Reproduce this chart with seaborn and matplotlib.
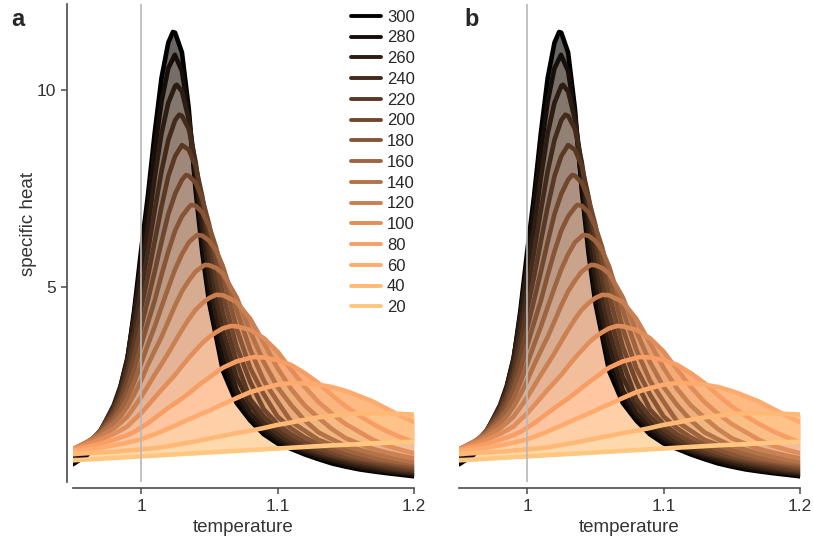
import numpy as np
import pandas as pd
import matplotlib
matplotlib.use("Agg")
import matplotlib.pyplot as plt
from matplotlib.lines import Line2D
import seaborn as sns

# ---------------- data ----------------
sizes = [300, 280, 260, 240, 220, 200, 180, 160, 140, 120, 100, 80, 60, 40, 20]

temperature = [0.95, 0.96, 0.97, 0.98, 0.985, 0.99, 0.995, 1.0, 1.005, 1.01,
               1.015, 1.02, 1.025, 1.03, 1.035, 1.04, 1.045, 1.05, 1.055, 1.06,
               1.07, 1.08, 1.09, 1.10, 1.11, 1.12, 1.13, 1.14, 1.15, 1.16,
               1.17, 1.18, 1.19, 1.20]

peak_T = [1.0234, 1.0248, 1.0262, 1.028, 1.030, 1.033, 1.0367, 1.0413, 1.047,
          1.055, 1.066, 1.0825, 1.11, 1.165, None]
peak_C = [11.47, 10.89, 10.13, 9.37, 8.60, 7.84, 7.08, 6.32, 5.56,
          4.80, 4.01, 3.22, 2.56, 1.80, None]

heat_300 = [.50, .72, 1.10, 1.90, 2.45, 3.15, 4.40, 5.90, 7.30, 8.90, 10.30, 11.20, 11.45, 10.95,
            9.52, 7.46, 5.85, 4.59, 3.74, 2.87, 2.06, 1.61, 1.26, 1.03, .89, .75, .63, .52,
            .44, .37, .32, .275, .235, .195]
heat_280 = [.58, .80, 1.20, 1.92, 2.45, 3.15, 4.30, 5.65, 7.00, 8.45, 9.70, 10.55, 10.87, 10.48,
            9.32, 7.61, 6.08, 4.85, 3.92, 3.16, 2.22, 1.70, 1.35, 1.10, .925, .80, .68, .58,
            .48, .41, .35, .31, .27, .23]
heat_260 = [.65, .89, 1.32, 2.00, 2.49, 3.20, 4.23, 5.41, 6.49, 7.77, 8.89, 9.67, 10.10, 9.96,
            9.25, 8.04, 6.49, 5.26, 4.27, 3.55, 2.39, 1.80, 1.45, 1.18, .98, .84, .73, .63,
            .54, .46, .40, .34, .30, .26]
heat_240 = [.69, .92, 1.34, 1.95, 2.38, 3.02, 3.90, 4.91, 5.89, 6.94, 7.93, 8.73, 9.23, 9.34,
            9.01, 8.17, 6.99, 5.74, 4.71, 3.89, 2.72, 2.00, 1.56, 1.27, 1.05, .89, .78, .69,
            .60, .52, .45, .39, .34, .30]
heat_220 = [.73, .95, 1.35, 1.89, 2.27, 2.81, 3.57, 4.44, 5.26, 6.15, 7.03, 7.81, 8.32, 8.60,
            8.48, 8.07, 7.28, 6.21, 5.19, 4.33, 3.10, 2.15, 1.71, 1.39, 1.15, .96, .83, .73,
            .65, .57, .51, .44, .38, .34]
heat_200 = [.78, .97, 1.34, 1.81, 2.15, 2.61, 3.24, 3.96, 4.66, 5.38, 6.14, 6.85, 7.36, 7.72,
            7.82, 7.65, 7.23, 6.57, 5.66, 4.81, 3.49, 2.59, 1.89, 1.52, 1.26, 1.07, .91, .79,
            .69, .63, .56, .50, .45, .39]
heat_180 = [.83, 1.01, 1.33, 1.72, 2.00, 2.40, 2.90, 3.51, 4.09, 4.65, 5.30, 5.90, 6.43, 6.79,
            7.02, 7.06, 6.89, 6.53, 6.00, 5.29, 3.95, 2.94, 2.27, 1.71, 1.41, 1.18, 1.01, .88,
            .76, .67, .61, .56, .50, .45]
heat_160 = [.86, 1.04, 1.30, 1.63, 1.87, 2.18, 2.58, 3.05, 3.53, 3.99, 4.49, 4.98, 5.45, 5.83,
            6.13, 6.29, 6.30, 6.17, 5.93, 5.52, 4.42, 3.41, 2.62, 2.09, 1.58, 1.35, 1.12, .99,
            .86, .76, .67, .60, .55, .51]
heat_140 = [.88, 1.06, 1.26, 1.54, 1.72, 1.96, 2.27, 2.62, 3.02, 3.38, 3.73, 4.13, 4.53, 4.89,
            5.16, 5.39, 5.52, 5.55, 5.48, 5.34, 4.74, 3.87, 3.09, 2.46, 2.00, 1.61, 1.31, 1.13,
            .97, .87, .77, .69, .61, .56]
heat_120 = [.88, 1.04, 1.20, 1.41, 1.55, 1.71, 1.95, 2.20, 2.48, 2.77, 3.04, 3.32, 3.62, 3.91,
            4.18, 4.42, 4.59, 4.72, 4.80, 4.79, 4.62, 4.19, 3.58, 2.94, 2.41, 1.99, 1.68, 1.39,
            1.16, 1.02, .89, .80, .72, .65]
heat_100 = [.89, 1.00, 1.12, 1.27, 1.36, 1.46, 1.63, 1.79, 1.99, 2.19, 2.39, 2.58, 2.77, 2.99,
            3.20, 3.39, 3.58, 3.73, 3.85, 3.95, 4.00, 3.91, 3.70, 3.36, 2.90, 2.46, 2.08, 1.78,
            1.52, 1.32, 1.12, .97, .87, .78]
heat_80 = [.87, .94, 1.02, 1.12, 1.18, 1.24, 1.32, 1.43, 1.54, 1.67, 1.80, 1.93, 2.05, 2.17,
           2.30, 2.44, 2.58, 2.70, 2.83, 2.95, 3.11, 3.20, 3.21, 3.14, 3.02, 2.81, 2.56, 2.25,
           1.97, 1.73, 1.52, 1.34, 1.19, 1.06]
heat_60 = [.83, .87, .92, .98, 1.01, 1.05, 1.09, 1.13, 1.20, 1.26, 1.33, 1.41, 1.48, 1.56,
           1.64, 1.71, 1.79, 1.86, 1.95, 2.02, 2.18, 2.33, 2.43, 2.52, 2.56, 2.55, 2.52, 2.46,
           2.36, 2.23, 2.09, 1.91, 1.73, 1.57]
heat_40 = [.76, .78, .80, .82, .83, .85, .86, .88, .89, .91, .93, .96, .99, 1.02,
           1.05, 1.08, 1.12, 1.15, 1.19, 1.22, 1.29, 1.35, 1.42, 1.50, 1.56, 1.63, 1.69, 1.73,
           1.77, 1.79, 1.80, 1.79, 1.78, 1.76]
heat_20 = [.60, .62, .64, .66, .67, .68, .69, .70, .71, .72, .73, .74, .75, .76,
           .77, .78, .79, .80, .81, .82, .84, .86, .88, .90, .92, .94, .96, .98,
           .995, 1.01, 1.03, 1.045, 1.06, 1.075]

heat = {300: heat_300, 280: heat_280, 260: heat_260, 240: heat_240, 220: heat_220,
        200: heat_200, 180: heat_180, 160: heat_160, 140: heat_140, 120: heat_120,
        100: heat_100, 80: heat_80, 60: heat_60, 40: heat_40, 20: heat_20}

x_ticks = [1.0, 1.1, 1.2]
x_ticklabels = ["1", "1.1", "1.2"]
y_ticks = [5, 10]

# ---------------- build long table ----------------
rows = []
for L, pt, pc in zip(sizes, peak_T, peak_C):
    for t, c in zip(temperature, heat[L]):
        rows.append((L, t, c))
    if pt is not None and pt not in temperature:
        rows.append((L, pt, pc))
df = pd.DataFrame(rows, columns=["L", "temperature", "heat"]).sort_values(["L", "temperature"])

cmap = matplotlib.colormaps["copper"]


def size_color(L):
    return cmap(1 - (L - 20) / 280)


palette = {L: size_color(L) for L in sizes}

# ---------------- figure ----------------
sns.set_style("ticks")
plt.rcParams["font.family"] = ["Liberation Sans", "DejaVu Sans"]

W, H = 813, 544
fig = plt.figure(figsize=(W / 100, H / 100), dpi=100)
ax_a = fig.add_axes([72.75 / W, 62 / H, 341.25 / W, 478 / H])
ax_b = fig.add_axes([459 / W, 62 / H, 341 / W, 478 / H])

for ax in (ax_a, ax_b):
    # dense bands between neighbouring sizes
    for La, Lb in zip(sizes[:-1], sizes[1:]):
        ax.fill_between(temperature, heat[La], heat[Lb],
                        color=size_color((La + Lb) / 2), alpha=0.62, linewidth=0, zorder=1)
    sns.lineplot(data=df, x="temperature", y="heat", hue="L", hue_order=sizes,
                 palette=palette, estimator=None, sort=True, linewidth=3.3,
                 legend=False, ax=ax, zorder=3)
    ax.axvline(1.0, color="#b8b8b8", linewidth=1.2, zorder=6)
    ax.set_xlim(0.95, 1.2)
    ax.set_ylim(0.05, 12.18)
    ax.set_xticks(x_ticks)
    ax.set_xticklabels(x_ticklabels)
    ax.tick_params(axis="both", direction="out", length=4, width=1.1,
                   color="#4a4a4a", labelsize=12.5, labelcolor="#333333", pad=4)
    for sp in ax.spines.values():
        sp.set_color("#4a4a4a")
        sp.set_linewidth(1.2)
    ax.set_xlabel("temperature", fontsize=13.5, color="#333333")
    ax.xaxis.set_label_coords(0.5, -0.078)

sns.despine(ax=ax_a, offset=4)
sns.despine(ax=ax_b, offset=4, left=True)

ax_a.set_yticks(y_ticks)
ax_a.set_ylabel("specific heat", fontsize=13.5, color="#333333")
ax_a.yaxis.set_label_coords(-0.105, 0.54)
ax_b.set_yticks([])
ax_b.set_ylabel("")

handles = [Line2D([], [], color=palette[L], linewidth=2.8) for L in sizes]
ax_a.legend(handles, [str(L) for L in sizes], loc="upper left",
            bbox_to_anchor=(0.8145, 0.988), frameon=False, fontsize=12,
            handlelength=1.8, handletextpad=0.38, labelspacing=0.345,
            borderpad=0, borderaxespad=0)

fig.text(18 / W, 1 - 20 / H, "a", fontsize=17, fontweight="bold", ha="center", va="center")
fig.text(472 / W, 1 - 20 / H, "b", fontsize=17, fontweight="bold", ha="center", va="center")

fig.savefig("out.png", dpi=100)
